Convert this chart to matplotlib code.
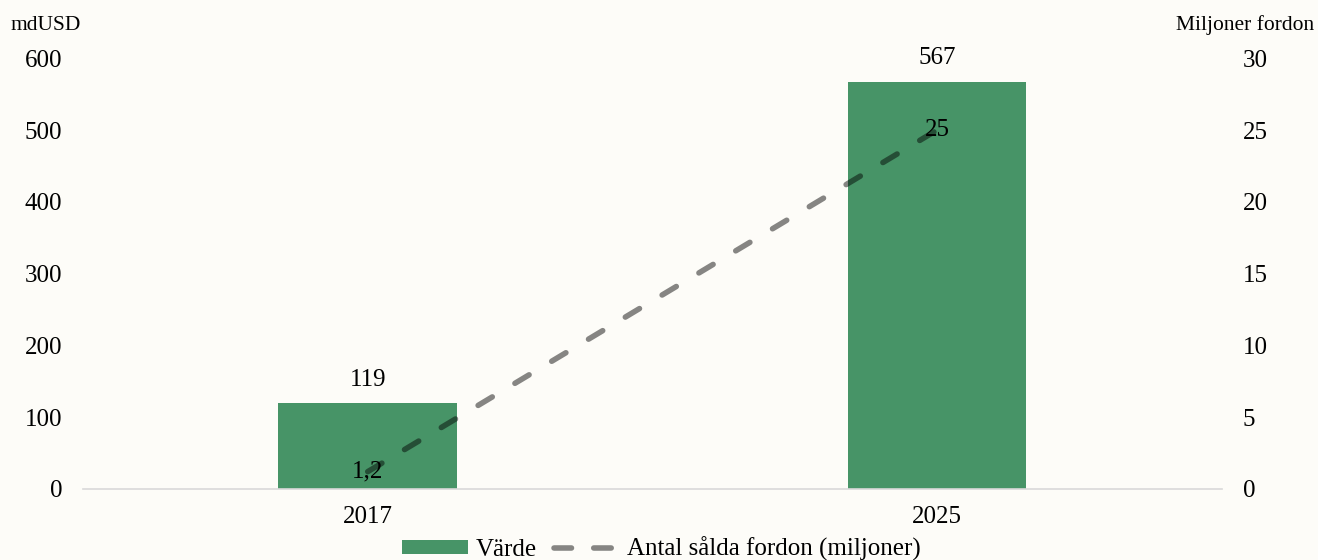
import matplotlib

matplotlib.use("Agg")
import matplotlib.pyplot as plt
from matplotlib.lines import Line2D
from matplotlib.patches import Patch

plt.rcParams["font.family"] = ["Liberation Serif", "DejaVu Serif"]
plt.rcParams["lines.scale_dashes"] = False

years = ["2017", "2025"]
varde = [119, 567]          # mdUSD
fordon = [1.2, 25]          # miljoner fordon
fordon_labels = ["1,2", "25"]

BG = "#fdfcf8"
GREEN = "#479467"
FS = 18

fig = plt.figure(figsize=(13.18, 5.6), dpi=100, facecolor=BG)
ax = fig.add_axes([0.063, 0.127, 0.864, 0.769], facecolor=BG)
ax2 = ax.twinx()

x = list(range(len(years)))
ax.bar(x, varde, width=0.314, color=GREEN, zorder=2)
for xi, v in zip(x, varde):
    ax.annotate(f"{v}", (xi, v), xytext=(0, 9), textcoords="offset points",
                ha="center", va="bottom", fontsize=FS)

ax2.plot(x, fordon, color="black", alpha=0.47, linewidth=4,
         dashes=(11.9, 19), dash_capstyle="round", zorder=3)
for xi, v, lab in zip(x, fordon, fordon_labels):
    ax2.text(xi, v, lab, ha="center", va="center", fontsize=FS, zorder=4)

ax.set_xlim(-0.5, 1.5)
ax.set_ylim(0, 600)
ax2.set_ylim(0, 30)
ax.set_yticks(range(0, 601, 100))
ax2.set_yticks(range(0, 31, 5))
ax.set_xticks(x)
ax.set_xticklabels(years)

for a in (ax, ax2):
    for s in a.spines.values():
        s.set_visible(False)
    a.tick_params(length=0, labelsize=FS)
ax.spines["bottom"].set_visible(True)
ax.spines["bottom"].set_color("#d9d9d9")
ax.spines["bottom"].set_linewidth(1.2)
ax.tick_params(axis="y", pad=15)
ax.tick_params(axis="x", pad=12)
ax2.tick_params(axis="y", pad=15)

fig.text(0.0076, 0.955, "mdUSD", fontsize=15.5, ha="left", va="center")
fig.text(0.997, 0.955, "Miljoner fordon", fontsize=15.5, ha="right", va="center")

handles = [
    Patch(facecolor=GREEN, edgecolor="none"),
    Line2D([], [], color="black", alpha=0.47, linewidth=4,
           dashes=(12.6, 16), dash_capstyle="round"),
]
fig.legend(handles, ["Värde", "Antal sålda fordon (miljoner)"],
           loc="center", bbox_to_anchor=(0.502, 0.0196), ncol=2, frameon=False,
           fontsize=FS, handlelength=2.64, handleheight=0.5, columnspacing=0.7,
           handletextpad=0.28, borderpad=0)

fig.savefig("out.png", facecolor=BG)
